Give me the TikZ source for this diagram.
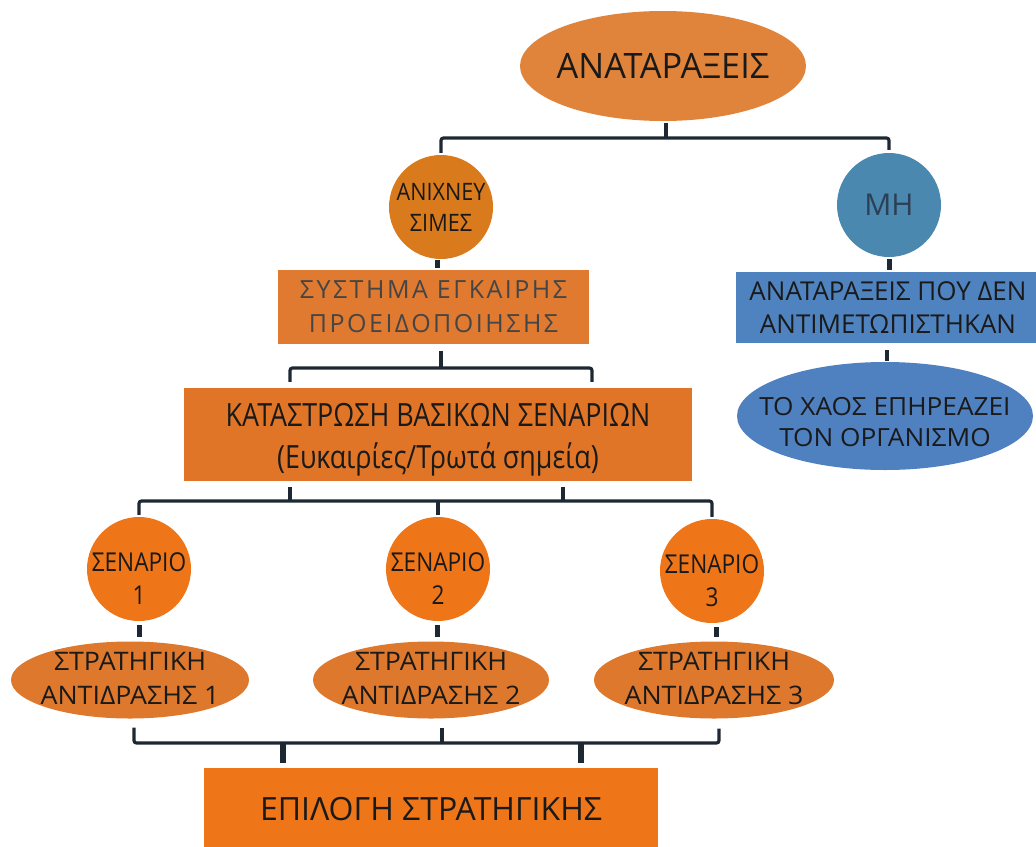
\documentclass[tikz,border=0pt]{standalone}
\usepackage{fontspec}
\setmainfont{Open Sans}
\newfontfamily\topfont[FakeStretch=0.98]{Open Sans}
\newfontfamily\anixfont[FakeStretch=0.9]{Open Sans}
\newfontfamily\scfont[FakeStretch=0.87]{Open Sans}
\newfontfamily\katfont[FakeStretch=0.84]{Open Sans}
\newfontfamily\widerfont[FakeStretch=1.05]{Open Sans}
\newfontfamily\widefont[LetterSpace=10]{Open Sans}
\usetikzlibrary{shapes.geometric}
\definecolor{linec}{HTML}{1E2833}
\definecolor{topc}{HTML}{E0843C}
\definecolor{anixc}{HTML}{D97A1C}
\definecolor{sysc}{HTML}{E07A30}
\definecolor{katc}{HTML}{E07528}
\definecolor{scc}{HTML}{EE7518}
\definecolor{strc}{HTML}{DE782C}
\definecolor{epc}{HTML}{EE7518}
\definecolor{mhc}{HTML}{4A88B0}
\definecolor{brc}{HTML}{4F83C0}
\definecolor{bec}{HTML}{4F80C0}
\definecolor{txt}{HTML}{1A1A1A}
\definecolor{systxt}{HTML}{454545}
\definecolor{mhtxt}{HTML}{2B3F55}
\begin{document}
\begin{tikzpicture}[x=1pt,y=-1pt,
  bus/.style={draw=linec,line width=3.2pt,rounded corners=2.5pt},
  tab/.style={draw=linec,line width=5pt},
  base/.style={inner sep=0pt,align=center,text=txt},
  ell/.style={base,ellipse},
  circ/.style={base,circle,minimum size=104pt},
  box/.style={base,rectangle}]
\useasboundingbox (0,0) rectangle (1036,846);

% nodes
\node[ell,fill=topc,minimum width=286pt,minimum height=110pt,
  label={[base,font=\topfont\fontsize{35}{40}\selectfont]center:ΑΝΑΤΑΡΑΞΕΙΣ}] (top) at (663,66) {};
\node[circ,fill=anixc,
  label={[base,font=\anixfont\fontsize{24}{31}\selectfont]center:{ΑΝΙΧΝΕΥ\\ΣΙΜΕΣ}}] (anix) at (441,207) {};
\node[circ,fill=mhc,text=mhtxt,font=\fontsize{30}{36}\selectfont] (mh) at (889,205) {ΜΗ};
\node[box,fill=sysc,minimum width=311pt,minimum height=74pt,text=systxt,
  font=\widefont\fontsize{25}{34}\selectfont] (sys) at (433.5,307) {ΣΥΣΤΗΜΑ ΕΓΚΑΙΡΗΣ\\ΠΡΟΕΙΔΟΠΟΙΗΣΗΣ};
\node[box,fill=katc,minimum width=508pt,minimum height=93pt,
  label={[base,font=\katfont\fontsize{32}{42}\selectfont,yshift=-5pt]center:{ΚΑΤΑΣΤΡΩΣΗ ΒΑΣΙΚΩΝ ΣΕΝΑΡΙΩΝ\\(Ευκαιρίες/Τρωτά σημεία)}}] (kat) at (438,434.5) {};
\node[box,fill=brc,minimum width=304pt,minimum height=71pt,
  font=\fontsize{26}{33}\selectfont] (nr) at (888,307.5) {ΑΝΑΤΑΡΑΞΕΙΣ ΠΟΥ ΔΕΝ\\ΑΝΤΙΜΕΤΩΠΙΣΤΗΚΑΝ};
\node[ell,fill=bec,minimum width=296pt,minimum height=108pt,
  label={[base,font=\widerfont\fontsize{25}{31}\selectfont,yshift=-6pt]center:{ΤΟ ΧΑΟΣ ΕΠΗΡΕΑΖΕΙ\\ΤΟΝ ΟΡΓΑΝΙΣΜΟ}}] (chaos) at (885,416) {};

\node[circ,fill=scc,
  label={[base,font=\scfont\fontsize{26}{33}\selectfont,yshift=-10pt]center:{ΣΕΝΑΡΙΟ\\1}}] (sc1) at (139,569) {};
\node[circ,fill=scc,
  label={[base,font=\scfont\fontsize{26}{33}\selectfont,yshift=-10pt]center:{ΣΕΝΑΡΙΟ\\2}}] (sc2) at (438,569) {};
\node[circ,fill=scc,
  label={[base,font=\scfont\fontsize{26}{33}\selectfont,yshift=-10pt]center:{ΣΕΝΑΡΙΟ\\3}}] (sc3) at (712,571) {};

\node[ell,fill=strc,minimum width=238pt,minimum height=77pt,
  label={[base,font=\widerfont\fontsize{25.5}{34}\selectfont,yshift=2pt]center:{ΣΤΡΑΤΗΓΙΚΗ\\ΑΝΤΙΔΡΑΣΗΣ 1}}] (st1) at (130,680) {};
\node[ell,fill=strc,minimum width=236pt,minimum height=77pt,
  label={[base,font=\widerfont\fontsize{25.5}{34}\selectfont,yshift=2pt]center:{ΣΤΡΑΤΗΓΙΚΗ\\ΑΝΤΙΔΡΑΣΗΣ 2}}] (st2) at (431,680) {};
\node[ell,fill=strc,minimum width=240pt,minimum height=77pt,
  label={[base,font=\widerfont\fontsize{25.5}{34}\selectfont,yshift=2pt]center:{ΣΤΡΑΤΗΓΙΚΗ\\ΑΝΤΙΔΡΑΣΗΣ 3}}] (st3) at (714,680) {};

\node[box,fill=epc,minimum width=454pt,minimum height=82pt,
  font=\fontsize{32}{38}\selectfont] (ep) at (431,809) {ΕΠΙΛΟΓΗ ΣΤΡΑΤΗΓΙΚΗΣ};

% connectors
\coordinate (j1) at (666,138);
\draw[bus,shorten <=2pt] ([xshift=3pt]top.south) -- (j1);
\draw[bus,shorten <=2pt,shorten >=3pt] (anix.north) |- (j1) -| (mh.north);
\draw[tab,shorten <=1pt,shorten >=1pt] ([xshift=-4pt]anix.south) -- ++(0,10);
\draw[tab,shorten <=2pt,shorten >=2pt] (mh.south) -- (mh.south |- nr.north);
\draw[bus,shorten <=7pt,shorten >=1pt] ([xshift=-1pt]nr.south) -- ++(0,19);

\coordinate (j2) at (441,368);
\draw[bus,shorten <=7pt] ([xshift=7.5pt]sys.south) -- (j2);
\draw[bus,shorten <=6pt,shorten >=6pt] ([xshift=-148pt]kat.north) |- (j2) -| ([xshift=154pt]kat.north);

\coordinate (j3) at (290,501);
\coordinate (j4) at (563,501);
\draw[bus,shorten <=6pt] (j3 |- kat.south) -- (j3);
\draw[bus,shorten <=6pt] (j4 |- kat.south) -- (j4);
\draw[bus,shorten <=2pt,shorten >=2pt] (sc1.north) |- (j3) -- (j4) -| (sc3.north);
\draw[bus,shorten <=2pt] (sc2.north) -- (sc2.north |- j3);

\draw[tab,shorten <=4pt,shorten >=4pt] (sc1.south) -- (sc1.south |- st1.north);
\draw[tab,shorten <=4pt,shorten >=4pt] ([xshift=-1pt]sc2.south) -- ([xshift=-1pt]sc2.south |- st2.north);
\draw[tab,shorten <=4pt,shorten >=4pt] ([xshift=4pt]sc3.south) -- ([xshift=4pt]sc3.south |- st3.north);

\coordinate (j5) at (283,743);
\coordinate (j6) at (581,743);
\draw[bus,shorten <=9pt,shorten >=10pt] ([xshift=4pt]st1.south) |- (j5) -- (j6) -| ([xshift=5pt]st3.south);
\draw[bus,shorten <=9pt] ([xshift=11pt]st2.south) -- ++(0,24.5);
\draw[tab,line width=6pt,shorten >=5pt] (j5) -- (j5 |- ep.north);
\draw[tab,line width=6pt,shorten >=5pt] (j6) -- (j6 |- ep.north);
\end{tikzpicture}
\end{document}
